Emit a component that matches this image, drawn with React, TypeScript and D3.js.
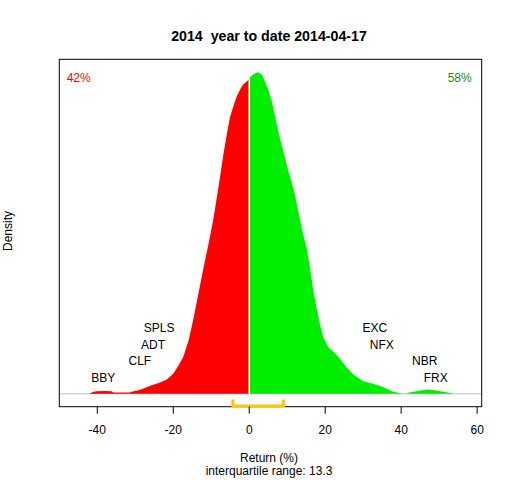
import React from "react";
import * as d3 from "d3";

const returns: number[] = [
  -42.1, -41.5, -40.3, -38, -36.2, -35.8, -31.5, -30.5, -29.6, -28.3, -27, -25.7, -24.4, -23, -21.7, -20,
  -18.7, -17.4, -16, -14.7, -13.4, -12.1, -10.8, -10.1, -9.5, -8.6, -7.7, -6.8, -5.9, -5.1, -4.2, -3.3,
  -2.4, -1.6, -0.3, 0.2, 1.05, 2.2, 3.3, 4.1, 5, 5.9, 6.8, 7.6, 8.5, 9.4, 10.3, 11.2, 12, 12.9, 13.8,
  14.4, 15.1, 16, 16.8, 17.7, 18.6, 19.5, 20.8, 22.6, 23.9, 25.6, 27.4, 30, 32.6, 35.3, 37.5, 39.7,
  40.5, 41.5, 41.8, 44, 46.7, 48.9, 51, 53.3, 53.8,
];
const densityPx: number[] = [
  0, 1.3, 2.6, 2.8, 2.6, 1.3, 1.3, 2.5, 3, 4.5, 6.7, 8.5, 10, 12, 14.3, 20,
  28, 36.7, 53, 75, 100, 125, 149, 162, 174, 195, 217, 240, 260, 276.6, 288, 298,
  305, 310, 314.3, 317.3, 320, 322.3, 320, 313.3, 305, 293.3, 278.3, 263.3, 250, 236.6, 223.3, 211.6, 200, 183.3, 166.6,
  156.6, 146.6, 126.6, 105, 86.6, 70, 56.6, 46.6, 40.6, 35, 26.6, 19.3, 12.6, 10, 6.6, 2.6, 0.5,
  0, 0, 1, 2.6, 4.3, 3.6, 2, 0.5, 0,
];
const density: number[] = densityPx.map((h) => h * 0.00012);

const tickValues: number[] = [-40, -20, 0, 20, 40, 60];
const labelNames: string[] = ["SPLS", "ADT", "CLF", "BBY", "EXC", "NFX", "NBR", "FRX"];
const labelReturns: number[] = [-23.7, -25.3, -28.8, -38.4, 33.1, 34.9, 46.2, 49.1];
const labelLevels: number[] = [4, 3, 2, 1, 4, 3, 2, 1];
const quartiles: number[] = [-4.3, 9.0];
const pctDown = "42%";
const pctUp = "58%";
const title = "2014  year to date 2014-04-17";
const xTitle = "Return (%)";
const iqrText = "interquartile range: 13.3";

export default function App() {
  const left = 59.3, right = 481.7, top = 59.3, bottom = 406.7;
  const x = d3.scaleLinear().domain([-50, 61.2]).range([left, right]);
  const ymax = d3.max(density)!;
  const ext = ymax * 0.04;
  const y = d3.scaleLinear().domain([-ext, ymax + ext]).range([bottom, top]);

  const pts = returns.map((r, i) => [r, density[i]] as [number, number]);
  const d0 = d3.scaleLinear().domain(returns).range(density)(0);
  const neg = pts.filter((p) => p[0] < 0).concat([[0, d0]]);
  const pos = ([[0, d0]] as [number, number][]).concat(pts.filter((p) => p[0] > 0));
  const area = d3
    .area<[number, number]>()
    .x((p) => x(p[0]))
    .y0(y(0))
    .y1((p) => y(p[1]))
    .curve(d3.curveLinear);

  const font = "'Liberation Sans', Arial, sans-serif";
  const base = y(0);

  return (
    <svg
      width={512}
      height={480}
      style={{ position: "absolute", left: 0, top: 0, background: "white" }}
      fontFamily={font}
    >
      <rect x={0} y={0} width={512} height={480} fill="white" />
      <text
        x={269}
        y={41}
        textAnchor="middle"
        fontWeight="bold"
        fontSize={14.2}
        style={{ whiteSpace: "pre" }}
        xmlSpace="preserve"
      >
        {title}
      </text>
      <line x1={left} x2={right} y1={base} y2={base} stroke="#BEBEBE" strokeWidth={1} />
      <path d={area(neg) || ""} fill="#FF0000" />
      <path d={area(pos) || ""} fill="#00EE00" />
      <line x1={x(0)} x2={x(0)} y1={base} y2={y(d0)} stroke="white" strokeWidth={1.5} />
      {labelNames.map((n, i) => (
        <text
          key={n}
          x={x(labelReturns[i])}
          y={base - labelLevels[i] * 16.5 + 4.5}
          textAnchor="middle"
          fontSize={12}
        >
          {n}
        </text>
      ))}
      <text x={66.7} y={82} fontSize={12} fill="#FF0000">
        {pctDown}
      </text>
      <text x={471.7} y={82} fontSize={12} fill="#228B22" textAnchor="end">
        {pctUp}
      </text>
      <rect x={left} y={top} width={right - left} height={bottom - top} fill="none" stroke="black" strokeWidth={1} />
      <path
        d={`M${x(quartiles[0])},${base + 5.7} V${bottom - 0.7} H${x(quartiles[1])} V${base + 5.7}`}
        fill="none"
        stroke="#FFC800"
        strokeWidth={3}
      />
      {tickValues.map((t) => (
        <g key={t}>
          <line x1={x(t)} x2={x(t)} y1={bottom} y2={bottom + 7} stroke="black" />
          <text x={x(t)} y={433.5} textAnchor="middle" fontSize={12}>
            {t}
          </text>
        </g>
      ))}
      <text x={269} y={462} textAnchor="middle" fontSize={12}>
        {xTitle}
      </text>
      <text x={269} y={475} textAnchor="middle" fontSize={12}>
        {iqrText}
      </text>
      <text transform="translate(12,231) rotate(-90)" textAnchor="middle" fontSize={12}>
        Density
      </text>
    </svg>
  );
}
